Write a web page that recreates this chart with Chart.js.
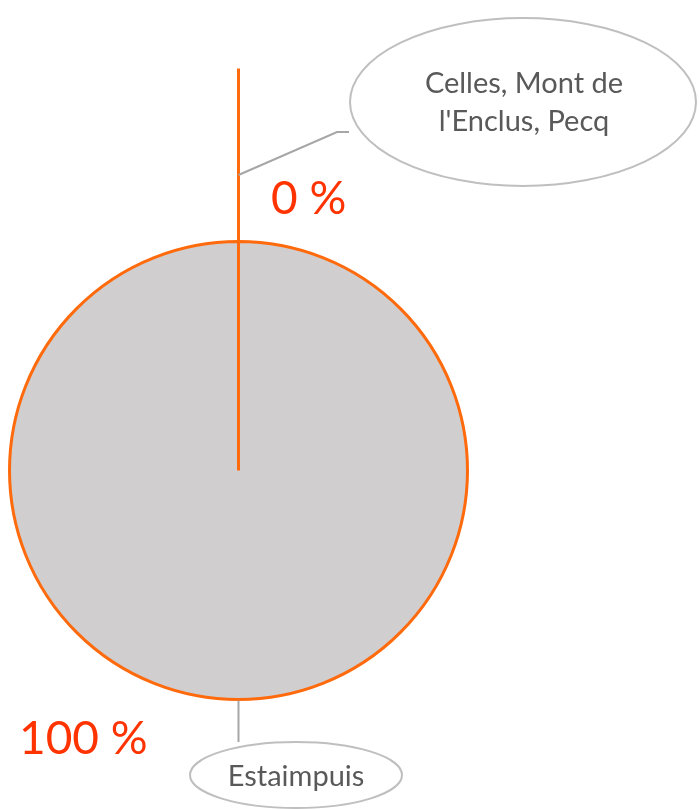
<!DOCTYPE html>
<html>
<head>
<meta charset="utf-8">
<script src="https://cdn.jsdelivr.net/npm/chart.js@4"></script>
<style>
  html, body { margin: 0; padding: 0; background: #fff; }
  #wrap { width: 699px; height: 810px; position: relative; }
</style>
</head>
<body>
<div id="wrap"><canvas id="pie" width="699" height="810"></canvas></div>
<script>
// Chart data
const categories = ["Celles, Mont de l'Enclus, Pecq", 'Estaimpuis'];
const shares = [0, 100];
const categoryLines = [['Celles, Mont de', "l'Enclus, Pecq"], ['Estaimpuis']];

// Colours
const sliceFill = '#D0CECE';
const sliceBorder = '#FF6A0D';
const pctColor = '#FF3300';
const calloutGray = '#A6A6A6';
const calloutText = '#595959';

const FONT = "Lato, 'Open Sans', sans-serif";

// Exploded distance of the 0 % slice (pixels)
const explode = 173;

// Draws the exploded zero-width slice as a seam line
const zeroSlicePlugin = {
  id: 'zeroSlice',
  afterDatasetsDraw(chart) {
    const ctx = chart.ctx;
    const arc = chart.getDatasetMeta(0).data[0];
    const a = arc.startAngle;
    const cx = arc.x + Math.cos(a) * explode;
    const cy = arc.y + Math.sin(a) * explode;
    ctx.save();
    ctx.strokeStyle = sliceBorder;
    ctx.lineWidth = 3;
    ctx.beginPath();
    ctx.moveTo(cx, cy);
    ctx.lineTo(cx + Math.cos(a) * arc.outerRadius, cy + Math.sin(a) * arc.outerRadius);
    ctx.stroke();
    ctx.restore();
  }
};

// Percent labels and category callouts
const calloutPlugin = {
  id: 'callouts',
  afterDraw(chart) {
    const ctx = chart.ctx;
    const arcs = chart.getDatasetMeta(0).data;
    const total = shares.reduce((s, v) => s + v, 0);
    ctx.save();

    // leader lines
    ctx.strokeStyle = calloutGray;
    ctx.lineWidth = 2;
    ctx.beginPath();
    ctx.moveTo(arcs[0].x, 175);
    ctx.lineTo(337, 132);
    ctx.lineTo(349, 132);
    ctx.stroke();

    ctx.beginPath();
    ctx.moveTo(arcs[1].x, arcs[1].y + arcs[1].outerRadius + 1);
    ctx.lineTo(arcs[1].x, 742);
    ctx.stroke();

    // ellipses
    ctx.lineWidth = 2;
    ctx.strokeStyle = '#BFBFBF';
    ctx.fillStyle = '#fff';
    ctx.beginPath();
    ctx.ellipse(523, 102, 173, 84, 0, 0, Math.PI * 2);
    ctx.fill();
    ctx.stroke();
    ctx.beginPath();
    ctx.ellipse(296, 775, 106, 33, 0, 0, Math.PI * 2);
    ctx.fill();
    ctx.stroke();

    // category text
    ctx.fillStyle = calloutText;
    ctx.font = '29px ' + FONT;
    ctx.textAlign = 'center';
    ctx.textBaseline = 'middle';
    ctx.fillText(categoryLines[0][0], 524, 84);
    ctx.fillText(categoryLines[0][1], 524, 122);
    ctx.fillText(categoryLines[1][0], 296, 777);

    // percentages
    ctx.fillStyle = pctColor;
    ctx.font = '46px ' + FONT;
    ctx.textAlign = 'left';
    ctx.textBaseline = 'alphabetic';
    ctx.fillText(Math.round(shares[0] / total * 100) + ' %', 271, 214);
    ctx.fillText(Math.round(shares[1] / total * 100) + ' %', 19, 754);
    ctx.restore();
  }
};

new Chart(document.getElementById('pie'), {
  type: 'pie',
  data: {
    labels: categories,
    datasets: [{
      data: shares,
      backgroundColor: sliceFill,
      borderColor: sliceBorder,
      borderWidth: 3,
      hoverOffset: 0
    }]
  },
  options: {
    responsive: false,
    animation: false,
    events: [],
    layout: { padding: { left: 8, right: 230, top: 240, bottom: 109 } },
    plugins: {
      legend: { display: false },
      tooltip: { enabled: false }
    }
  },
  plugins: [zeroSlicePlugin, calloutPlugin]
});
</script>
</body>
</html>
